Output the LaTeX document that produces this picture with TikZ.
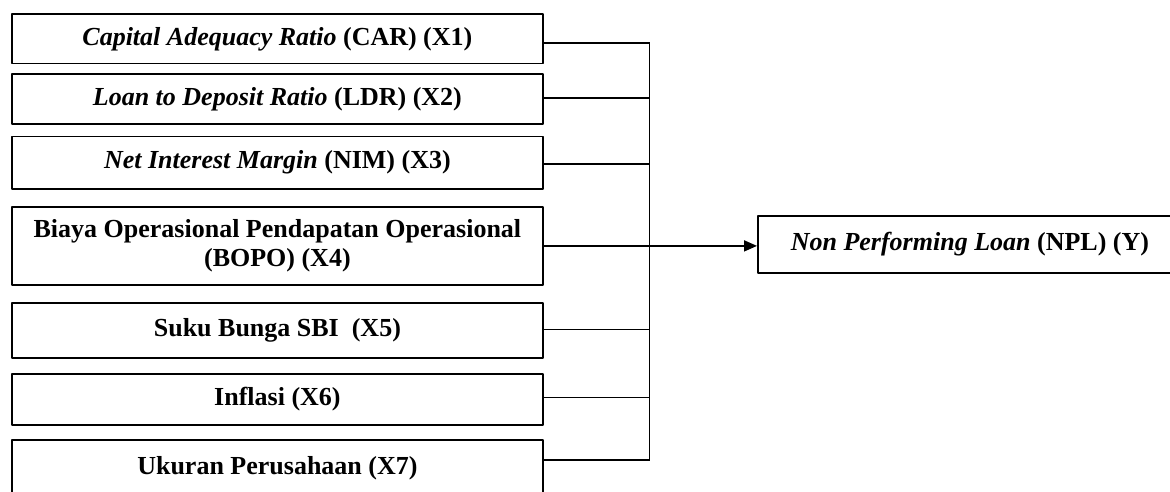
\documentclass[tikz,border=0pt]{standalone}
\usepackage{fontspec}
\setmainfont{Liberation Serif}
\usetikzlibrary{arrows.meta}
\begin{document}
\begin{tikzpicture}[x=1pt,y=-1pt,>={Triangle[length=13pt,width=11pt]},line join=round,
 font=\fontsize{26}{28.5}\selectfont\bfseries,
 box/.style={draw,line width=1.8pt,anchor=north west,minimum width=531pt,inner sep=0pt,align=center},
 link/.style={line width=1.8pt}]
 \useasboundingbox (0,0) rectangle (1170,492);
 \clip (0,0) rectangle (1170,492);
 \node[box,minimum height=49.4pt](x1)at(11,13.3){\textit{Capital Adequacy Ratio} (CAR) (X1)};
 \node[box,minimum height=50pt](x2)at(11,73.3){\textit{Loan to Deposit Ratio} (LDR) (X2)};
 \node[box,minimum height=52pt](x3)at(11,135.7){\textit{Net Interest Margin} (NIM) (X3)};
 \node[box,minimum height=78pt](x4)at(11,206){Biaya Operasional Pendapatan Operasional\\(BOPO) (X4)};
 \node[box,minimum height=54.4pt](x5)at(11,302.3){Suku Bunga SBI\ \ (X5)};
 \node[box,minimum height=51.6pt](x6)at(11,372.7){Inflasi (X6)};
 \node[box,minimum height=56pt](x7)at(11,439){Ukuran Perusahaan (X7)};
 \node[box,minimum width=424pt,minimum height=57pt](npl)at(757,215){\textit{Non Performing Loan} (NPL) (Y)};
 \coordinate (bus) at (649.5,0);
 \foreach \n/\d in {1/-4,2/1,3/-1.5,5/1,6/2,7/8}
 \draw[link]([yshift=\d pt]x\n.east)--([yshift=\d pt]x\n.east-|bus);
 \draw[link]([yshift=-4pt]x1.east-|bus)--([yshift=8pt]x7.east-|bus);
 \draw[link,->](x4.east)--(x4.east-|npl.west);
\end{tikzpicture}
\end{document}
